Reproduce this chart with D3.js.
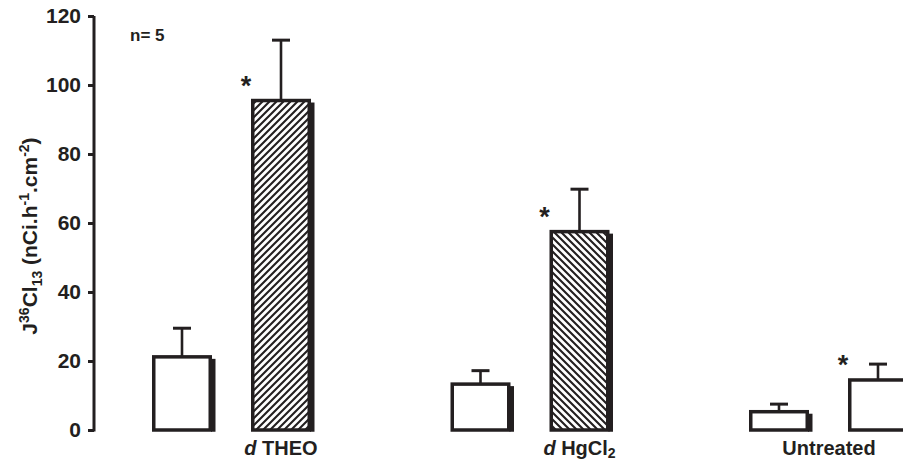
<!DOCTYPE html>
<html>
<head>
<meta charset="utf-8">
<script src="https://cdn.jsdelivr.net/npm/d3@7"></script>
<style>
  body { margin: 0; background: #fff; }
  svg { display: block; font-family: Arial, "Liberation Sans", sans-serif; }
</style>
</head>
<body>
<svg id="chart" width="903" height="461"></svg>
<script>
// values
const groups = ['THEO', 'HgCl2', 'Untreated'];
const controlMeans = [21.2, 13.3, 5.3];
const controlErr = [8.3, 3.9, 2.2];
const treatedMeans = [95.5, 57.5, 14.5];
const treatedErr = [17.5, 12.3, 4.6];
const treatedHatch = ['fwd', 'back', 'none'];
const significant = [true, true, true];
const yTicks = [0, 20, 40, 60, 80, 100, 120];

const ink = '#231f20';
const svg = d3.select('#chart');

const y = d3.scaleLinear().domain([0, 120]).range([430, 16]);
const x0 = d3.scaleBand().domain(groups).range([152, 152 + 3 * 298.5]);
const x1 = d3.scaleBand().domain(['control', 'treated']).range([0, 159]).paddingInner(0.394);

// hatch patterns
const defs = svg.append('defs');
const addHatch = (id, dir) => {
  const p = defs.append('pattern')
    .attr('id', id)
    .attr('patternUnits', 'userSpaceOnUse')
    .attr('width', 7).attr('height', 7);
  p.append('rect').attr('width', 7).attr('height', 7).attr('fill', '#fff');
  const d = dir === 'fwd'
    ? 'M-1,1 l2,-2 M0,7 l7,-7 M6,8 l2,-2'
    : 'M-1,6 l2,2 M0,0 l7,7 M6,-1 l2,2';
  p.append('path').attr('d', d).attr('stroke', ink).attr('stroke-width', 2.1);
};
addHatch('fwd', 'fwd');
addHatch('back', 'back');

// bars table
const bars = [];
groups.forEach((g, i) => {
  bars.push({ group: g, key: 'control', mean: controlMeans[i], err: controlErr[i], fill: 'none', star: false });
  bars.push({ group: g, key: 'treated', mean: treatedMeans[i], err: treatedErr[i], fill: treatedHatch[i], star: significant[i] });
});

const sw = 3.5;
const barG = svg.append('g');

// error bars (drawn first, bar top covers the stem)
bars.forEach(b => {
  const cx = x0(b.group) + x1(b.key) + x1.bandwidth() / 2;
  barG.append('line')
    .attr('x1', cx).attr('x2', cx)
    .attr('y1', y(b.mean)).attr('y2', y(b.mean + b.err))
    .attr('stroke', ink).attr('stroke-width', 2.6);
  barG.append('line')
    .attr('x1', cx - 9).attr('x2', cx + 9)
    .attr('y1', y(b.mean + b.err)).attr('y2', y(b.mean + b.err))
    .attr('stroke', ink).attr('stroke-width', 3);
});

bars.forEach((b, i) => {
  const left = x0(b.group) + x1(b.key);
  const w = x1.bandwidth();
  const top = y(b.mean);
  // shadow strip on the right
  barG.append('rect')
    .attr('x', left + w - 1).attr('y', top + 2)
    .attr('width', 4.5).attr('height', y(0) + sw / 2 - top - 2)
    .attr('fill', ink);
  barG.append('rect')
    .attr('x', left + sw / 2).attr('y', top)
    .attr('width', w - sw).attr('height', y(0) - top)
    .attr('fill', b.fill === 'none' ? '#fff' : `url(#${b.fill})`)
    .attr('stroke', ink).attr('stroke-width', sw);
  if (b.star) {
    barG.append('text')
      .attr('x', left - 5).attr('y', top - 6)
      .attr('text-anchor', 'middle')
      .attr('font-size', 27).attr('font-weight', 'bold')
      .attr('fill', ink)
      .text('*');
  }
});

// y axis
const yAxis = d3.axisLeft(y).tickValues(yTicks).tickSize(6).tickPadding(7);
const axG = svg.append('g').attr('transform', 'translate(94,0)').call(yAxis);
axG.select('.domain').attr('stroke', ink).attr('stroke-width', 3).attr('d', `M0,${y(120)}V${y(0) + 1.5}`);
axG.selectAll('.tick line').attr('stroke', ink).attr('stroke-width', 3);
axG.selectAll('.tick text')
  .attr('fill', ink).attr('font-size', 21).attr('font-weight', 'bold')
  .attr('font-family', 'Arial, "Liberation Sans", sans-serif');

// y title
const yt = svg.append('text')
  .attr('transform', 'translate(37,236) rotate(-90)')
  .attr('text-anchor', 'middle')
  .attr('font-size', 21).attr('font-weight', 'bold').attr('fill', ink);
yt.append('tspan').text('J');
yt.append('tspan').attr('font-size', 14).attr('dy', -8).text('36');
yt.append('tspan').attr('dy', 8).text('Cl');
yt.append('tspan').attr('font-size', 14).attr('dy', 5).text('13');
yt.append('tspan').attr('dy', -5).text(' (nCi.h');
yt.append('tspan').attr('font-size', 14).attr('dy', -8).text('-1');
yt.append('tspan').attr('dy', 8).text('.cm');
yt.append('tspan').attr('font-size', 14).attr('dy', -8).text('-2');
yt.append('tspan').attr('dy', 8).text(')');

// n label
svg.append('text')
  .attr('x', 130).attr('y', 41)
  .attr('font-size', 17).attr('font-weight', 'bold').attr('fill', ink)
  .text('n= 5');

// category labels
const labelX = g => g === 'Untreated'
  ? x0(g) + 80
  : x0(g) + x1('treated') + x1.bandwidth() / 2;
groups.forEach(g => {
  const t = svg.append('text')
    .attr('x', labelX(g)).attr('y', 455)
    .attr('text-anchor', 'middle')
    .attr('font-size', 20).attr('font-weight', 'bold').attr('fill', ink);
  if (g === 'Untreated') {
    t.text(g);
  } else if (g === 'HgCl2') {
    t.append('tspan').attr('font-style', 'italic').text('d');
    t.append('tspan').text(' HgCl');
    t.append('tspan').attr('font-size', 14).attr('dy', 3).text('2');
  } else {
    t.append('tspan').attr('font-style', 'italic').text('d');
    t.append('tspan').text(' ' + g);
  }
});
</script>
</body>
</html>
